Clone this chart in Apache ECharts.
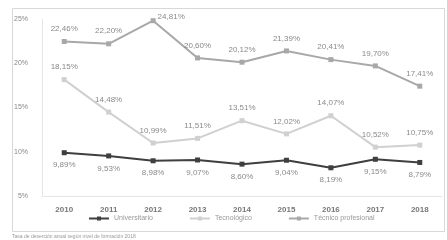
<!DOCTYPE html>
<html>
<head>
<meta charset="utf-8">
<script src="https://cdn.jsdelivr.net/npm/echarts@6/dist/echarts.min.js"></script>
<style>
  html, body { margin: 0; padding: 0; background: #fff; }
  #main { width: 447px; height: 240px; }
</style>
</head>
<body>
<div id="main"></div>
<script>
var years = ['2010', '2011', '2012', '2013', '2014', '2015', '2016', '2017', '2018'];
var universitario = [9.89, 9.53, 8.98, 9.07, 8.60, 9.04, 8.19, 9.15, 8.79];
var tecnologico = [18.15, 14.48, 10.99, 11.51, 13.51, 12.02, 14.07, 10.52, 10.75];
var tecnicoProfesional = [22.46, 22.20, 24.81, 20.60, 20.12, 21.39, 20.41, 19.70, 17.41];
var yTicks = [5, 10, 15, 20, 25];

var chart = echarts.init(document.getElementById('main'));

function pct(p) {
  return p.value.toFixed(2).replace('.', ',') + '%';
}

function serie(name, data, color, pos, width) {
  return {
    name: name,
    type: 'line',
    data: data,
    symbol: 'rect',
    symbolSize: 5,
    color: color,
    lineStyle: { width: width, color: color },
    itemStyle: { color: color },
    label: {
      show: true,
      position: pos,
      distance: 6,
      formatter: pct,
      color: '#8a8a8a',
      fontSize: 8,
      fontFamily: 'Liberation Sans'
    }
  };
}

// el pico de 2012 lleva la etiqueta a la derecha, como en el original
var tecnicoData = tecnicoProfesional.map(function (v, i) {
  if (i === 2) return { value: v, label: { position: 'right', distance: 2, offset: [0, -4] } };
  return v;
});

chart.setOption({
  backgroundColor: '#fff',
  animation: false,
  textStyle: { fontFamily: 'Liberation Sans' },
  grid: { left: 42, right: 5, top: 19, bottom: 44 },
  legend: {
    top: 215,
    left: 88,
    padding: 0,
    itemWidth: 20,
    itemHeight: 5,
    itemGap: 36,
    textStyle: { color: '#999', fontSize: 7 },
    data: ['Universitario', 'Tecnológico', 'Técnico profesional']
  },
  xAxis: {
    type: 'category',
    data: years,
    boundaryGap: true,
    axisLine: { show: true, lineStyle: { color: '#e6e6e6' } },
    axisTick: { show: false },
    axisLabel: { color: '#777', fontSize: 8, margin: 10, fontWeight: 'bold' }
  },
  yAxis: {
    type: 'value',
    min: 5,
    max: 25,
    interval: 5,
    axisLine: { show: true, lineStyle: { color: '#e6e6e6' } },
    axisTick: { show: false },
    splitLine: { show: false },
    axisLabel: {
      color: '#888',
      fontSize: 7,
      margin: 14,
      formatter: function (v) { return yTicks.indexOf(v) >= 0 ? v + '%' : ''; }
    }
  },
  graphic: [
    {
      type: 'rect',
      shape: { x: 12.5, y: 8.5, width: 432, height: 223 },
      style: { fill: 'none', stroke: '#d8d8d8', lineWidth: 1 }
    },
    {
      type: 'text',
      left: 12,
      top: 234,
      style: {
        text: 'Tasa de deserción anual según nivel de formación 2018',
        fill: '#999',
        fontSize: 5,
        fontFamily: 'Liberation Sans'
      }
    }
  ],
  series: [
    serie('Universitario', universitario, '#3f3f3f', 'bottom', 2),
    serie('Tecnológico', tecnologico, '#d0d0d0', 'top', 2),
    serie('Técnico profesional', tecnicoData, '#a8a8a8', 'top', 2)
  ]
});
</script>
</body>
</html>
